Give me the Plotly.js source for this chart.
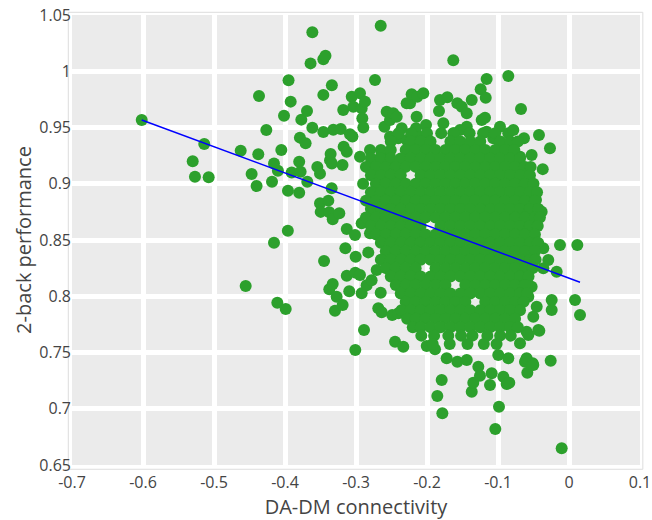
<!DOCTYPE html>
<html>
<head>
<meta charset="utf-8">
<script src="https://cdn.plot.ly/plotly-3.0.1.min.js"></script>
<style>html,body{margin:0;padding:0;background:#fff;}#chart{width:652px;height:520px;}</style>
</head>
<body>
<div id="chart"></div>
<script>
// Scattered points around the main cloud: [DA-DM connectivity, 2-back performance]
const outerPts = [
[-0.6018,0.9567],
[-0.530,0.920],[-0.5268,0.9063],[-0.5137,0.9353],[-0.5075,0.9057],
[-0.4624,0.9294],[-0.4554,0.8091],[-0.447,0.9087],[-0.440,0.898],[-0.4376,0.9262],[-0.4366,0.978],
[-0.4263,0.9478],[-0.4183,0.9018],[-0.4155,0.918],[-0.4155,0.8476],[-0.4108,0.7943],[-0.410,0.9116],[-0.4052,0.930],[-0.4014,0.9605],[-0.399,0.7887],
[-0.396,0.8583],[-0.3958,0.8938],[-0.395,0.992],[-0.392,0.973],[-0.3906,0.910],[-0.380,0.9196],[-0.380,0.892],[-0.379,0.941],[-0.378,0.9107],[-0.377,0.957],[-0.371,0.936],[-0.369,0.9647],[-0.3686,0.9018],
[-0.364,1.007],[-0.3615,1.0346],[-0.3615,0.9498],[-0.3545,0.915],[-0.3507,0.909],[-0.3507,0.8826],[-0.3497,0.875],[-0.346,1.0106],[-0.343,1.0138],[-0.346,0.979],[-0.346,0.946],[-0.345,0.8313],
[-0.339,0.885],[-0.3376,0.8746],[-0.3376,0.8062],[-0.3366,0.921],[-0.3357,0.9264],[-0.3343,0.896],[-0.334,0.918],[-0.334,0.9875],[-0.3328,0.8684],[-0.3328,0.8109],[-0.332,0.948],
[-0.3296,0.7872],[-0.3273,0.7996],[-0.3235,0.8737],[-0.3215,0.9487],[-0.319,0.9167],[-0.3188,0.7922],[-0.318,0.9656],[-0.3174,0.933],[-0.315,0.8426],[-0.313,0.9285],[-0.313,0.8598],[-0.313,0.8183],
[-0.3095,0.8044],[-0.3085,0.944],[-0.306,0.9774],[-0.305,0.942],[-0.3038,0.9685],[-0.3014,0.8544],[-0.301,0.821],[-0.301,0.7522],[-0.3005,0.8352],
[-0.2944,0.9804],[-0.2944,0.924],[-0.2944,0.8188],[-0.292,0.967],[-0.292,0.8648],[-0.292,0.8026],[-0.2911,0.9582],[-0.2897,0.95],[-0.2887,0.770],[-0.2873,0.973],[-0.285,0.8098],[-0.2827,0.839],
[-0.2803,0.93],[-0.2803,0.856],[-0.278,0.8142],[-0.2732,0.9922],[-0.2709,0.921],[-0.2709,0.8233],[-0.2686,0.7893],[-0.2652,1.0405],[-0.2652,0.8032],[-0.2638,0.927],[-0.2638,0.7857],
[-0.260,0.9507],[-0.2568,0.964],[-0.2568,0.918],[-0.2521,0.9567],[-0.2521,0.9418],[-0.249,0.7833],[-0.2475,0.9626],[-0.245,0.7596],[-0.2427,0.9596],[-0.2404,0.9404],[-0.2404,0.7848],
[-0.2356,0.9493],[-0.2334,0.7552],[-0.2286,0.9715],[-0.2286,0.9389],
[-0.2239,0.9715],[-0.2216,0.9795],[-0.2193,0.9374],[-0.2155,0.9493],[-0.2146,0.9596],[-0.2137,0.9774],[-0.2099,0.9418],[-0.2052,0.9804],[-0.2014,0.9522],[-0.2004,0.7558],
[-0.1887,0.7528],[-0.1855,0.7113],[-0.1831,0.9647],[-0.1817,0.9744],[-0.1793,0.7256],[-0.1784,0.6959],[-0.177,0.9537],[-0.1723,0.7449],[-0.1714,0.9768],
[-0.163,1.0097],[-0.163,0.9448],[-0.1573,0.9715],[-0.1573,0.7418],[-0.1535,0.9478],[-0.1511,0.9685],[-0.144,0.9626],[-0.144,0.9507],[-0.144,0.7433],
[-0.137,0.9744],[-0.137,0.7152],[-0.1348,0.7232],[-0.13,0.933],[-0.1277,0.7374],[-0.1254,0.7294],[-0.1244,0.984],[-0.123,0.9567],[-0.1183,0.9587],[-0.1173,0.9765],[-0.116,0.9931],[-0.116,0.9463],
[-0.1113,0.7211],[-0.1089,0.7315],[-0.1066,0.9404],[-0.1038,0.682],[-0.0996,0.7478],[-0.0986,0.7018],[-0.0972,0.9507],[-0.0972,0.936],[-0.0925,0.7285],
[-0.0878,0.9315],[-0.0878,0.722],[-0.0855,0.9958],[-0.0855,0.9448],[-0.0855,0.7449],[-0.0841,0.7232],[-0.0807,0.9018],[-0.0785,0.8737],[-0.0784,0.9478],[-0.0752,0.8856],
[-0.069,0.924],[-0.069,0.7582],[-0.0676,0.9664],[-0.0666,0.8989],[-0.0666,0.8189],[-0.0644,0.8707],[-0.0634,0.9404],[-0.062,0.7418],
[-0.0597,0.884],[-0.0597,0.8144],[-0.0597,0.7685],[-0.0597,0.7449],[-0.0587,0.732],[-0.0573,0.9018],[-0.0573,0.7996],[-0.0573,0.7656],
[-0.0526,0.9256],[-0.0526,0.8085],[-0.0512,0.7404],[-0.0503,0.8944],[-0.0503,0.8678],[-0.0503,0.7818],[-0.0503,0.7389],[-0.0465,0.8856],[-0.0455,0.7907],
[-0.0432,0.847],[-0.0432,0.77],[-0.0423,0.9433],[-0.0418,0.7694],[-0.0385,0.8752],[-0.037,0.913],[-0.0362,0.8426],[-0.0362,0.8248],
[-0.0292,0.8322],[-0.0268,0.9315],[-0.0258,0.7427],[-0.0244,0.7967],[-0.0244,0.7878],[-0.0174,0.8218],[-0.0127,0.8456],[-0.0103,0.6648],
[0.0085,0.7967],[0.0117,0.8456],[0.0155,0.7833]
];

// Dense core of the cloud, read row by row: one performance level per row
const coreRowY = [0.945,0.9375,0.930,0.9225,0.915,0.9075,0.900,0.8925,0.885,0.8775,0.870,0.8625,0.855,0.8475,0.840,0.8325,0.825,0.8175,0.810,0.8025,0.795,0.7875,0.780,0.7725,0.765,0.7575];
const coreRowX = [
[-0.24,-0.222,-0.2,-0.18,-0.162,-0.14,-0.121,-0.104],
[-0.251,-0.223,-0.209,-0.195,-0.167,-0.153,-0.139,-0.125,-0.097,-0.083,-0.072],
[-0.265,-0.251,-0.23,-0.216,-0.202,-0.188,-0.174,-0.16,-0.146,-0.132,-0.118,-0.104,-0.09,-0.077],
[-0.279,-0.265,-0.251,-0.237,-0.223,-0.209,-0.195,-0.181,-0.167,-0.153,-0.139,-0.125,-0.111,-0.097,-0.083,-0.069],
[-0.286,-0.272,-0.258,-0.244,-0.23,-0.216,-0.202,-0.188,-0.174,-0.16,-0.146,-0.132,-0.118,-0.104,-0.09,-0.076,-0.062,-0.054],
[-0.279,-0.265,-0.251,-0.237,-0.209,-0.195,-0.181,-0.167,-0.153,-0.139,-0.125,-0.111,-0.097,-0.083,-0.069,-0.055],
[-0.29,-0.272,-0.258,-0.244,-0.23,-0.216,-0.202,-0.188,-0.174,-0.16,-0.146,-0.132,-0.118,-0.104,-0.09,-0.076,-0.062,-0.05],
[-0.279,-0.265,-0.251,-0.237,-0.223,-0.209,-0.195,-0.181,-0.167,-0.153,-0.139,-0.125,-0.111,-0.097,-0.083,-0.069,-0.055,-0.045],
[-0.286,-0.272,-0.258,-0.244,-0.23,-0.216,-0.202,-0.188,-0.174,-0.16,-0.146,-0.132,-0.118,-0.104,-0.09,-0.076,-0.062,-0.048],
[-0.279,-0.265,-0.251,-0.237,-0.223,-0.209,-0.195,-0.181,-0.167,-0.153,-0.139,-0.125,-0.111,-0.097,-0.083,-0.069,-0.055,-0.043],
[-0.286,-0.272,-0.258,-0.244,-0.23,-0.216,-0.202,-0.188,-0.174,-0.16,-0.146,-0.132,-0.118,-0.104,-0.09,-0.076,-0.062,-0.048,-0.041],
[-0.279,-0.265,-0.251,-0.237,-0.223,-0.209,-0.181,-0.167,-0.153,-0.139,-0.125,-0.111,-0.097,-0.083,-0.069,-0.055,-0.044],
[-0.272,-0.258,-0.244,-0.23,-0.216,-0.202,-0.188,-0.174,-0.16,-0.146,-0.132,-0.118,-0.104,-0.09,-0.076,-0.062,-0.048],
[-0.265,-0.251,-0.237,-0.223,-0.209,-0.195,-0.181,-0.167,-0.153,-0.139,-0.125,-0.111,-0.097,-0.083,-0.069,-0.055,-0.044],
[-0.258,-0.244,-0.23,-0.216,-0.202,-0.188,-0.174,-0.16,-0.146,-0.132,-0.118,-0.104,-0.09,-0.076,-0.062,-0.048],
[-0.265,-0.251,-0.237,-0.223,-0.209,-0.195,-0.181,-0.167,-0.153,-0.139,-0.125,-0.111,-0.097,-0.083,-0.069,-0.055,-0.047],
[-0.258,-0.244,-0.23,-0.216,-0.188,-0.174,-0.16,-0.146,-0.132,-0.118,-0.104,-0.09,-0.076,-0.062,-0.051],
[-0.251,-0.237,-0.223,-0.209,-0.195,-0.181,-0.167,-0.153,-0.139,-0.125,-0.111,-0.097,-0.083,-0.069,-0.057],
[-0.244,-0.23,-0.216,-0.202,-0.188,-0.174,-0.146,-0.132,-0.118,-0.104,-0.09,-0.076,-0.062],
[-0.237,-0.223,-0.209,-0.195,-0.181,-0.167,-0.153,-0.139,-0.125,-0.111,-0.097,-0.083,-0.069,-0.059],
[-0.23,-0.216,-0.202,-0.188,-0.174,-0.16,-0.146,-0.118,-0.104,-0.09,-0.076,-0.064],
[-0.236,-0.223,-0.209,-0.195,-0.181,-0.167,-0.153,-0.139,-0.125,-0.111,-0.097,-0.083,-0.069],
[-0.228,-0.216,-0.202,-0.188,-0.174,-0.16,-0.146,-0.132,-0.118,-0.104,-0.09,-0.076],
[-0.22,-0.209,-0.195,-0.181,-0.167,-0.153,-0.139,-0.125,-0.111,-0.097,-0.083,-0.072],
[-0.208,-0.19,-0.17,-0.152,-0.136,-0.115,-0.097,-0.082],
[-0.192,-0.168,-0.143,-0.12,-0.102]
];

// Regression line end points
const fitX = [-0.6018, 0.0155];
const fitY = [0.9567, 0.8125];

// Tick labels
const xTickVals = [-0.7, -0.6, -0.5, -0.4, -0.3, -0.2, -0.1, 0, 0.1];
const xTickText = ['-0.7', '-0.6', '-0.5', '-0.4', '-0.3', '-0.2', '-0.1', '0', '0.1'];
const yTickVals = [0.65, 0.7, 0.75, 0.8, 0.85, 0.9, 0.95, 1, 1.05];
const yTickText = ['0.65', '0.7', '0.75', '0.8', '0.85', '0.9', '0.95', '1', '1.05'];

const xs = [], ys = [];
outerPts.forEach(p => { xs.push(p[0]); ys.push(p[1]); });
coreRowX.forEach((row, i) => row.forEach(v => { xs.push(v); ys.push(coreRowY[i]); }));

const traces = [
  {x: xs, y: ys, type: 'scatter', mode: 'markers',
   marker: {color: '#2ca02c', size: 12, line: {width: 0}}, showlegend: false, hoverinfo: 'skip'},
  {x: fitX, y: fitY, type: 'scatter', mode: 'lines',
   line: {color: '#0000ff', width: 1.5}, showlegend: false, hoverinfo: 'skip'}
];

const axisCommon = {
  showgrid: true, gridcolor: '#ffffff', gridwidth: 5,
  zeroline: false, showline: false, tickmode: 'array',
  tickfont: {family: 'Open Sans', size: 16, color: '#444'}
};

const layout = {
  width: 652, height: 520,
  margin: {l: 72, r: 12, t: 15, b: 55},
  paper_bgcolor: '#ffffff', plot_bgcolor: '#ebebeb',
  font: {family: 'Open Sans', color: '#444'},
  xaxis: Object.assign({}, axisCommon, {
    range: [-0.7, 0.1], tickvals: xTickVals, ticktext: xTickText,
    ticks: 'outside', ticklen: 3, tickcolor: 'rgba(0,0,0,0)',
    title: {text: 'DA-DM connectivity', font: {size: 20, color: '#444'}, standoff: 7}
  }),
  yaxis: Object.assign({}, axisCommon, {
    range: [0.65, 1.05], tickvals: yTickVals, ticktext: yTickText, ticks: '',
    title: {text: '2-back performance', font: {size: 20, color: '#444'}, standoff: 2}
  }),
  shapes: [{type: 'rect', xref: 'paper', yref: 'paper',
    x0: -0.0065, x1: 1.005, y0: -0.0095, y1: 1.006,
    line: {color: '#dddddd', width: 1}, fillcolor: 'rgba(0,0,0,0)', layer: 'below'}]
};

Plotly.newPlot('chart', traces, layout, {displayModeBar: false, staticPlot: true});
</script>
</body>
</html>
